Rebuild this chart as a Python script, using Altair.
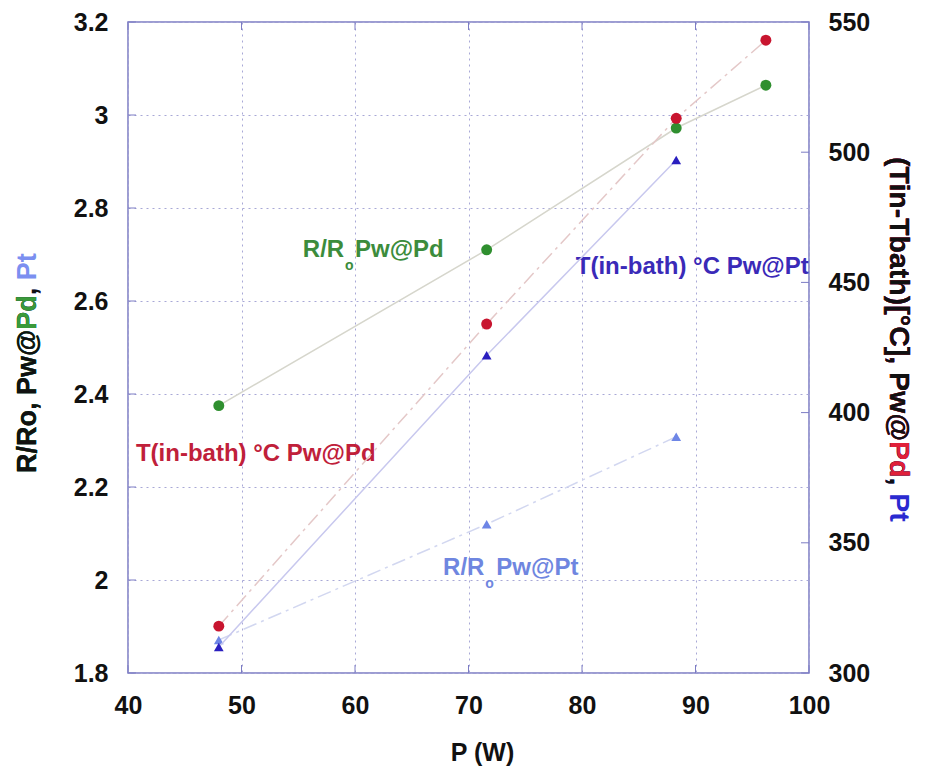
import altair as alt
import pandas as pd

# ---------------- data ----------------
P_pd = [48.0, 71.6, 88.3, 96.2]
rr_pd = [2.375, 2.71, 2.972, 3.064]        # R/Ro Pw@Pd (left axis)
t_pd = [318, 434, 513, 543]                # T(in-bath) Pw@Pd (right axis)

P_pt = [48.0, 71.6, 88.3]
rr_pt = [1.871, 2.12, 2.308]               # R/Ro Pw@Pt (left axis)
t_pt = [310, 422, 497]                     # T(in-bath) Pw@Pt (right axis)

x_ticks = [40, 50, 60, 70, 80, 90, 100]
left_ticks = [1.8, 2.0, 2.2, 2.4, 2.6, 2.8, 3.0, 3.2]
right_ticks = [300, 350, 400, 450, 500, 550]

# ---------------- styling ----------------
W, H = 681, 651
FONT = "Liberation Sans, Arial, Helvetica, sans-serif"
GRID = "#a8a8d6"
FRAME = "#7c7cc4"
GREEN, RED, BLUE, LBLUE = "#2f8f2f", "#c8152f", "#2a1fbf", "#6e86e6"

df_g = pd.DataFrame({"P": P_pd, "v": rr_pd})
df_r = pd.DataFrame({"P": P_pd, "v": t_pd})
df_lb = pd.DataFrame({"P": P_pt, "v": rr_pt})
df_b = pd.DataFrame({"P": P_pt, "v": t_pt})

x_enc = alt.X(
    "P:Q",
    scale=alt.Scale(domain=[40, 100], nice=False, zero=False),
    axis=alt.Axis(
        values=x_ticks, title="P (W)", grid=True, gridDash=[2, 4], gridColor=GRID,
        gridWidth=1, domain=False, ticks=False, labelPadding=20, labelFlush=False,
        labelFont=FONT, labelFontSize=25, labelFontWeight="bold", labelColor="#111",
        titleFont=FONT, titleFontSize=25, titleFontWeight="bold", titleColor="#111",
        titlePadding=22, titleX=354, titleAlign="center", labelOverlap=False,
    ),
)
yl_enc = alt.Y(
    "v:Q",
    scale=alt.Scale(domain=[1.8, 3.2], nice=False, zero=False),
    axis=alt.Axis(
        values=left_ticks, format="~g", title=None, grid=True, gridDash=[2, 4],
        gridColor=GRID, gridWidth=1, domain=False, ticks=False, labelPadding=20,
        labelFont=FONT, labelFontSize=25, labelFontWeight="bold", labelColor="#111",
        labelOverlap=False, labelFlush=False,
    ),
)
yr_enc = alt.Y(
    "v:Q",
    scale=alt.Scale(domain=[300, 550], nice=False, zero=False),
    axis=alt.Axis(
        orient="right", values=right_ticks, title=None, grid=False, domain=False,
        ticks=False, labelPadding=19, labelFont=FONT, labelFontSize=25,
        labelFontWeight="bold", labelColor="#111", labelOverlap=False, labelFlush=False,
    ),
)

# ---------------- left-axis layer ----------------
g_line = alt.Chart(df_g).mark_line(color="#d6d6cc", strokeWidth=1.5).encode(x=x_enc, y=yl_enc)
g_pts = alt.Chart(df_g).mark_circle(size=120, color=GREEN, opacity=1).encode(x=x_enc, y=yl_enc)
lb_line = alt.Chart(df_lb).mark_line(color="#d2d7f0", strokeWidth=1.5,
                                     strokeDash=[14, 5, 3, 5]).encode(x=x_enc, y=yl_enc)
lb_pts = alt.Chart(df_lb).mark_point(shape="triangle-up", filled=True, size=95,
                                     color=LBLUE, opacity=1).encode(x=x_enc, y=yl_enc)

# in-plot annotations (data coordinates)
lab_right = pd.DataFrame({"P": [59.05, 71.4], "v": [2.71, 2.026],
                          "t": ["R/R", "R/R"], "c": ["#3c8c3c", "#6f86e0"]})
lab_sub = pd.DataFrame({"P": [59.5, 71.85], "v": [2.676, 1.992],
                        "t": ["o", "o"], "c": ["#3c8c3c", "#6f86e0"]})
lab_left = pd.DataFrame({
    "P": [60.0, 72.45, 40.7, 79.45],
    "v": [2.71, 2.026, 2.271, 2.673],
    "t": ["Pw@Pd", "Pw@Pt", "T(in-bath) °C Pw@Pd", "T(in-bath) °C Pw@Pt"],
    "c": ["#3c8c3c", "#6f86e0", "#c0203a", "#3a2ab8"],
})
txt_kw = dict(font=FONT, fontWeight="bold", baseline="middle")
t_right = alt.Chart(lab_right).mark_text(align="right", fontSize=24, **txt_kw).encode(
    x=x_enc, y=yl_enc, text="t:N", color=alt.Color("c:N", scale=None))
t_sub = alt.Chart(lab_sub).mark_text(align="center", fontSize=14, **txt_kw).encode(
    x=x_enc, y=yl_enc, text="t:N", color=alt.Color("c:N", scale=None))
t_left = alt.Chart(lab_left).mark_text(align="left", fontSize=24, **txt_kw).encode(
    x=x_enc, y=yl_enc, text="t:N", color=alt.Color("c:N", scale=None))

# small inward ticks on the frame
xt = pd.DataFrame({"P": x_ticks})
xt_bot = alt.Chart(xt).mark_rule(color=FRAME).encode(x=x_enc, y=alt.value(H - 8), y2=alt.value(H))
xt_top = alt.Chart(xt).mark_rule(color=FRAME).encode(x=x_enc, y=alt.value(0), y2=alt.value(8))
yt = pd.DataFrame({"v": left_ticks})
yt_left = alt.Chart(yt).mark_rule(color=FRAME).encode(y=yl_enc, x=alt.value(0), x2=alt.value(8))

# multi-coloured axis titles: stacked prefixes of the same left-aligned string
lt = pd.DataFrame({
    "t": ["R/Ro, Pw@Pd, Pt", "R/Ro, Pw@Pd, ", "R/Ro, Pw@Pd", "R/Ro, Pw@"],
    "c": ["#7b8ff0", "#111111", "#3a9a3a", "#111111"],
})
left_title = alt.Chart(lt).mark_text(align="left", angle=270, fontSize=27, **txt_kw).encode(
    x=alt.value(-100), y=alt.value(451), text="t:N", color=alt.Color("c:N", scale=None))

rt = pd.DataFrame({
    "t": ["(Tin-Tbath)[°C], Pw@Pd, Pt", "(Tin-Tbath)[°C], Pw@Pd, ",
          "(Tin-Tbath)[°C], Pw@Pd", "(Tin-Tbath)[°C], Pw@"],
    "c": ["#2a2ad0", "#111111", "#e0203a", "#111111"],
})
right_title = alt.Chart(rt).mark_text(align="left", angle=90, fontSize=28.5, **txt_kw).encode(
    x=alt.value(771), y=alt.value(135), text="t:N", color=alt.Color("c:N", scale=None))

left_layer = alt.layer(g_line, lb_line, xt_bot, xt_top, yt_left, g_pts, lb_pts,
                       t_right, t_sub, t_left, left_title, right_title)

# ---------------- right-axis layer ----------------
r_line = alt.Chart(df_r).mark_line(color="#e4c8c8", strokeWidth=1.5,
                                   strokeDash=[14, 5, 3, 5]).encode(x=x_enc, y=yr_enc)
b_line = alt.Chart(df_b).mark_line(color="#c8c8ee", strokeWidth=1.5).encode(x=x_enc, y=yr_enc)
r_pts = alt.Chart(df_r).mark_circle(size=120, color=RED, opacity=1).encode(x=x_enc, y=yr_enc)
b_pts = alt.Chart(df_b).mark_point(shape="triangle-up", filled=True, size=95,
                                   color=BLUE, opacity=1).encode(x=x_enc, y=yr_enc)
rtk = pd.DataFrame({"v": right_ticks})
yt_right = alt.Chart(rtk).mark_rule(color=FRAME).encode(y=yr_enc, x=alt.value(W - 8), x2=alt.value(W))

right_layer = alt.layer(r_line, b_line, yt_right, r_pts, b_pts)

chart = (
    alt.layer(left_layer, right_layer)
    .resolve_scale(y="independent")
    .properties(
        width=W, height=H,
        autosize=alt.AutoSizeParams(type="none"),
        padding={"left": 128, "top": 22, "right": 117, "bottom": 103},
        background="white",
    )
    .configure_view(stroke=FRAME, strokeWidth=1.5)
)

chart.save("out.html", embed_options={"renderer": "svg", "actions": False})
